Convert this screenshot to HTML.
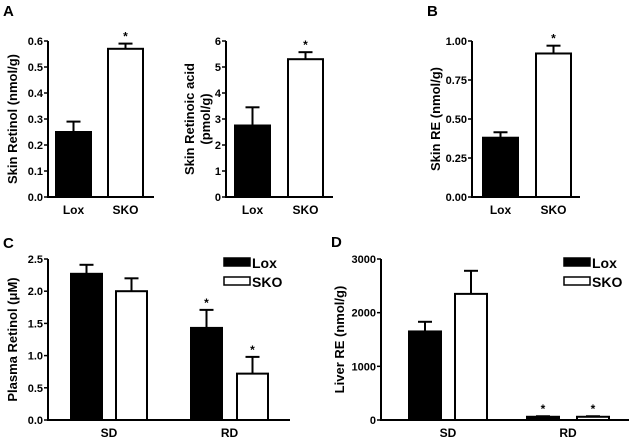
<!DOCTYPE html>
<html><head><meta charset="utf-8"><style>
body{margin:0;background:#fff;}
svg{display:block;font-family:"Liberation Sans",Arial,sans-serif;font-weight:bold;}
</style></head><body>
<svg id="fig" width="636" height="440" viewBox="0 0 636 440" xmlns="http://www.w3.org/2000/svg">
<text x="3" y="16" font-size="15">A</text>
<text x="427" y="16" font-size="15">B</text>
<text x="3" y="248" font-size="15">C</text>
<text x="331" y="247" font-size="15">D</text>
</svg>
<script>
const a1Cats=["Lox","SKO"], a1Vals=[0.25,0.57], a1Errs=[0.04,0.02], a1Ticks=["0.0","0.1","0.2","0.3","0.4","0.5","0.6"];
const a2Cats=["Lox","SKO"], a2Vals=[2.75,5.3], a2Errs=[0.7,0.27], a2Ticks=["0","1","2","3","4","5","6"];
const bCats=["Lox","SKO"], bVals=[0.38,0.92], bErrs=[0.035,0.05], bTicks=["0.00","0.25","0.50","0.75","1.00"];
const cGroups=["SD","RD"], cLox=[2.27,1.43], cLoxErr=[0.14,0.28], cSko=[2.0,0.72], cSkoErr=[0.2,0.26], cTicks=["0.0","0.5","1.0","1.5","2.0","2.5"];
const cStarLox=[false,true], cStarSko=[false,true];
const dGroups=["SD","RD"], dLox=[1650,60], dLoxErr=[180,10], dSko=[2350,60], dSkoErr=[430,10], dTicks=["0","1000","2000","3000"];
const dStarLox=[false,true], dStarSko=[false,true];

const NS="http://www.w3.org/2000/svg";
const svg=document.getElementById('fig');
function mk(tag,attrs,parent){const e=document.createElementNS(NS,tag);for(const k in attrs)e.setAttribute(k,attrs[k]);(parent||svg).appendChild(e);return e;}

function panel(o){
  const g=mk('g',{});
  
  
  const ticks=o.ticks.map(Number), ymax=ticks[ticks.length-1];
  const y=v=>o.y0-(v/ymax)*(o.y0-o.y1);
  const ax=mk('path',{d:`M${o.ax},${o.y1}V${o.y0}H${o.axEnd}`,stroke:'#000','stroke-width':2,fill:'none'},g);
  
  
  o.ticks.forEach((t,i)=>{
    const yy=y(ticks[i]);
    mk('line',{x1:o.ax-4,x2:o.ax,y1:yy,y2:yy,stroke:'#000','stroke-width':1.5},g);
    const tx=mk('text',{x:o.ax-5,y:yy+4,'font-size':11,'text-anchor':'end'},g);
    tx.textContent=t;
    
    
  });
  const cy=(o.y0+o.y1)/2;
  const tl=mk('text',{x:0,y:0,'font-size':13,'text-anchor':'middle',transform:`translate(${o.titleX},${cy}) rotate(-90)`},g);
  o.title.forEach((line,i)=>{const ts=mk('tspan',{x:0,dy:i==0?0:16},tl);ts.textContent=line;});
  
  
  o.bars.forEach(b=>{
    const top=y(b.v), eb=y(b.v+b.e);
    const cx=b.x+b.w/2;
    const el=mk('line',{x1:cx,x2:cx,y1:eb,y2:top,stroke:'#000','stroke-width':2},g);
    
    
    mk('line',{x1:cx-7,x2:cx+7,y1:eb,y2:eb,stroke:'#000','stroke-width':2},g);
    const r=mk('rect',{x:b.x,y:top,width:b.w,height:Math.max(o.y0-top,1),fill:b.fill,stroke:'#000','stroke-width':2},g);
    
    
    if(b.star){const s=mk('text',{x:cx,y:eb-3,'font-size':12,'text-anchor':'middle'},g);s.textContent='*';
      
      }
  });
  o.labels.forEach(l=>{const t=mk('text',{x:l.x,y:o.y0+17,'font-size':12,'text-anchor':'middle'},g);t.textContent=l.t;
    
    });
  if(o.legend){
    [['Lox','#000'],['SKO','#fff']].forEach((e,i)=>{
      const yy=o.legend.y+i*19;
      const r=mk('rect',{x:o.legend.x,y:yy,width:26,height:8,fill:e[1],stroke:'#000','stroke-width':1.5},g);
      
      
      const t=mk('text',{x:o.legend.x+28,y:yy+10,'font-size':14},g);t.textContent=e[0];
      
      
    });
  }
}
function simple(name,ax,axEnd,x1,x2,cats,vals,errs,ticks,title,titleX){
  panel({name,ax,axEnd,y0:197,y1:41,ticks,title,titleX,
    bars:[{x:x1,w:35,v:vals[0],e:errs[0],fill:'#000',name:'bar-'+cats[0].toLowerCase(),star:false},
          {x:x2,w:35,v:vals[1],e:errs[1],fill:'#fff',name:'bar-'+cats[1].toLowerCase(),star:true}],
    labels:[{x:x1+17.5,t:cats[0]},{x:x2+17.5,t:cats[1]}]});
}
simple('panel-a-skin-retinol',48,154,56,108,a1Cats,a1Vals,a1Errs,a1Ticks,["Skin Retinol (nmol/g)"],17);
simple('panel-a-skin-retinoic-acid',226,333,235,288,a2Cats,a2Vals,a2Errs,a2Ticks,["Skin Retinoic acid","(pmol/g)"],194);
simple('panel-b-skin-re',472,580,483,536,bCats,bVals,bErrs,bTicks,["Skin RE (nmol/g)"],440);

function grouped(name,ax,axEnd,y1,ticks,title,titleX,pos,w,lox,loxE,sko,skoE,sL,sS,groups,legend){
  const bars=[];
  groups.forEach((g,i)=>{
    bars.push({x:pos[i][0],w,v:lox[i],e:loxE[i],fill:'#000',name:'bar-lox-'+g.toLowerCase(),star:sL[i]});
    bars.push({x:pos[i][1],w,v:sko[i],e:skoE[i],fill:'#fff',name:'bar-sko-'+g.toLowerCase(),star:sS[i]});
  });
  panel({name,ax,axEnd,y0:420,y1,ticks,title,titleX,bars,
    labels:groups.map((g,i)=>({x:(pos[i][0]+pos[i][1]+w)/2,t:g})),legend});
}
grouped('panel-c-plasma-retinol',48,290,259,cTicks,["Plasma Retinol (\u03bcM)"],17,[[71,116],[191,237]],31,cLox,cLoxErr,cSko,cSkoErr,cStarLox,cStarSko,cGroups,{x:224,y:258});
grouped('panel-d-liver-re',381,629,259,dTicks,["Liver RE (nmol/g)"],344,[[409,455],[527,577]],32,dLox,dLoxErr,dSko,dSkoErr,dStarLox,dStarSko,dGroups,{x:564,y:258});
</script>
</body></html>
